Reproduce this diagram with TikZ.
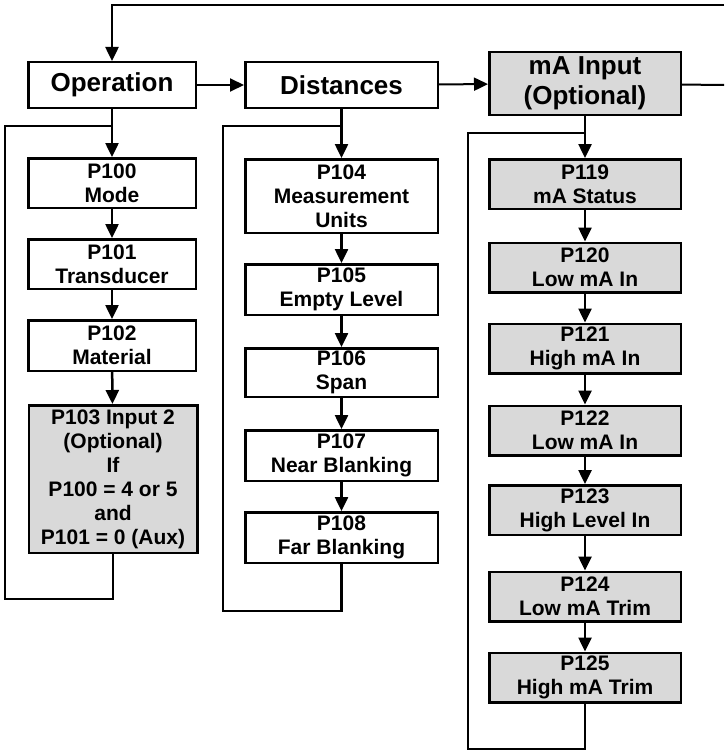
\documentclass[tikz,border=0pt]{standalone}
\usepackage{fontspec}
\setmainfont{Liberation Sans}
\definecolor{BoxGray}{RGB}{217,217,217}
\usepackage{tikz}
\usetikzlibrary{positioning, arrows.meta}

\begin{document}
\begin{tikzpicture}[x=1pt,y=-1pt,
    head/.style={draw, line width=2.5pt, inner sep=0pt, align=center,
      font=\fontsize{26}{30}\selectfont\bfseries},
    param/.style={draw, line width=2.5pt, inner sep=0pt, align=center,
      font=\fontsize{21}{24}\selectfont\bfseries},
    link/.style={line width=2.5pt},
    arr/.style={line width=2.5pt, -{Triangle[length=14pt,width=13pt]}},
    harr/.style={line width=2pt, -{Triangle[length=14pt,width=13pt]}}]
  \useasboundingbox (0,0) rectangle (724,752);

  % headers
  \node[head, minimum width=167.5pt, minimum height=45.5pt] (op) at (112,85) {Operation};
  \node[head, minimum width=192.5pt, minimum height=45.5pt] (dist) at (341.5,85) {Distances};
  \node[head, fill=BoxGray, minimum width=191.5pt, minimum height=62.5pt] (ma) at (585,83.5) {mA Input\\(Optional)};

  \coordinate (topR) at (724,5);
  \coordinate (midR) at (724,85);
  \draw[arr] (topR) -| (op);
  \draw[harr] (op) -- (dist);
  \draw[harr] (dist) -- (ma);
  \draw[line width=2pt] (ma) -- (midR);

  % operation
  \begin{scope}
    \foreach \n/\y/\h/\t in {100/183/49.5/{P100\\Mode},101/264/49.5/{P101\\Transducer},
        102/345.5/50.5/{P102\\Material}}
      \node[param, minimum width=167.5pt, minimum height=\h pt] (p\n) at (112,\y) {\t};
    \node[param, fill=BoxGray, minimum width=168.5pt, minimum height=147.5pt] (p103) at (113,479)
      {P103 Input 2\\(Optional)\\If\\P100 = 4 or 5\\and\\P101 = 0 (Aux)};
    \foreach \a/\b in {100/101,101/102,102/103}
      \draw[arr] (p\a) -- (p\b);
    \coordinate (opJoin) at (112,126);
    \coordinate (opLoop) at (5,599);
    \draw[arr] (op) -- (p100);
    \draw[link] (p103.south) -- (p103.south |- opLoop) -- (opLoop) |- (opJoin);
  \end{scope}

  % distances
  \begin{scope}
    \foreach \n/\y/\h/\t in {104/196/73.5/{P104\\Measurement\\Units},105/289.5/50.5/{P105\\Empty Level},
        106/372.5/48.5/{P106\\Span},107/455.5/50.5/{P107\\Near Blanking},108/537.5/50.5/{P108\\Far Blanking}}
      \node[param, minimum width=192.5pt, minimum height=\h pt] (p\n) at (341.5,\y) {\t};
    \foreach \a/\b in {104/105,105/106,106/107,107/108}
      \draw[arr] (p\a) -- (p\b);
    \coordinate (distJoin) at (341.5,126);
    \coordinate (distLoop) at (223,611);
    \draw[arr] (dist) -- (p104);
    \draw[link] (p108.south) -- (p108.south |- distLoop) -- (distLoop) |- (distJoin);
  \end{scope}

  % mA input
  \begin{scope}
    \foreach \n/\y/\t in {119/184/{P119\\mA Status},120/267.5/{P120\\Low mA In},121/348.5/{P121\\High mA In},
        122/430.5/{P122\\Low mA In},123/510/{P123\\High Level In},124/596.5/{P124\\Low mA Trim},
        125/677.5/{P125\\High mA Trim}}
      \node[param, fill=BoxGray, minimum width=191.5pt, minimum height=49.5pt] (p\n) at (585,\y) {\t};
    \foreach \a/\b in {119/120,120/121,121/122,122/123,123/124,124/125}
      \draw[arr] (p\a) -- (p\b);
    \coordinate (maJoin) at (585,133);
    \coordinate (maLoop) at (468,749);
    \draw[arr] (ma) -- (p119);
    \draw[link] (p125.south) -- (p125.south |- maLoop) -- (maLoop) |- (maJoin);
  \end{scope}
\end{tikzpicture}
\end{document}
